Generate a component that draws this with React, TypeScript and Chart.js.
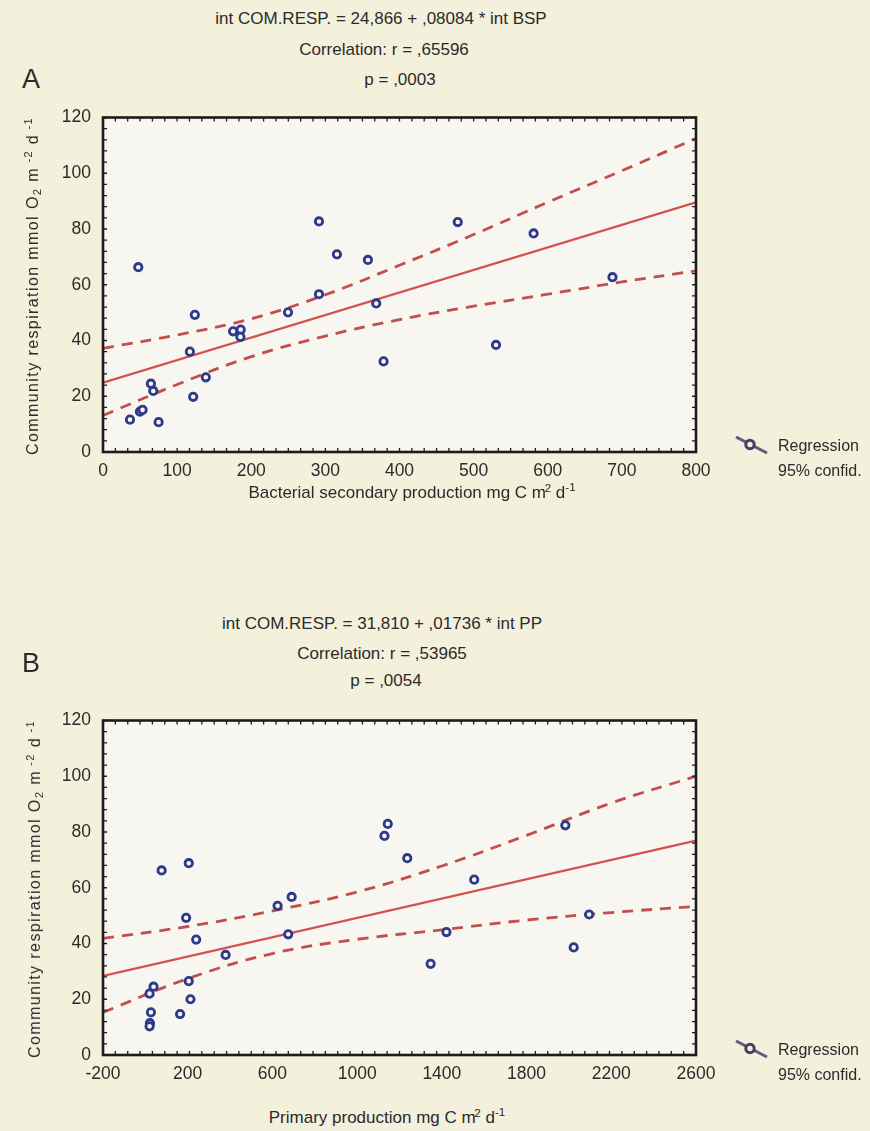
import React, { useEffect, useRef } from 'react';
import { Chart, registerables } from 'chart.js';

Chart.register(...registerables);

// ---------- Panel A: community respiration vs bacterial secondary production ----------
const bspA = [47.6, 36.4, 49.8, 53.4, 64.6, 67.8, 75, 117.2, 123.9, 121.7, 138.7, 175.5, 185.8, 185.4, 249.6, 291.4, 291.4, 315.6, 357.4, 368.6, 378.5, 478.6, 580.9, 687.3, 530.2];
const respA = [66.3, 11.6, 14.5, 15.1, 24.5, 21.9, 10.7, 36, 49.2, 19.8, 26.8, 43.3, 43.9, 41.3, 50.1, 82.7, 56.6, 70.9, 68.9, 53.3, 32.5, 82.5, 78.4, 62.7, 38.4];
const regXA = [0, 800];
const regYA = [24.87, 89.54];
const bandXA = [0, 100, 200, 300, 400, 500, 600, 700, 800];
const upperA = [37.2, 42.0, 47.8, 56.4, 67.0, 78.0, 89.6, 100.9, 112.5];
const lowerA = [13.1, 24.2, 34.2, 41.6, 47.5, 52.3, 56.6, 61.0, 65.0];
const titleA = ['int COM.RESP. = 24,866 + ,08084 * int BSP', 'Correlation: r = ,65596', 'p = ,0003'];

// ---------- Panel B: community respiration vs primary production ----------
const ppB = [76.9, 205, 192.5, 240, 379, 38.7, 19.8, 26.4, 21.6, 20, 164, 205, 213, 624.4, 690.8, 674.7, 1129, 1144.6, 1236.6, 1552.8, 1347, 1421.7, 1983, 2095.6, 2022.6];
const respB = [66.2, 68.8, 49.2, 41.4, 35.9, 24.5, 22.0, 15.3, 11.4, 10.3, 14.7, 26.5, 20.0, 53.5, 56.7, 43.3, 78.6, 82.9, 70.6, 62.9, 32.7, 44.1, 82.4, 50.4, 38.6];
const regXB = [-200, 2600];
const regYB = [28.34, 76.95];
const bandXB = [-200, 200, 600, 1000, 1400, 1800, 2200, 2600];
const upperB = [41.8, 46.1, 51.7, 58.5, 67.8, 78.8, 90.4, 100.0];
const lowerB = [15.3, 27.4, 36.4, 41.5, 44.9, 48.4, 51.1, 53.3];
const titleB = ['int COM.RESP. = 31,810 + ,01736 * int PP', 'Correlation: r = ,53965', 'p = ,0054'];

// ---------- Axes ----------
const yMin = 0, yMax = 120, yStep = 20, yMinorDiv = 30;
const xMinA = 0, xMaxA = 800, xStepA = 100;
const xMinB = -200, xMaxB = 2600, xStepB = 400;
const xMinorDiv = 48;

const legendLabels = ['Regression', '95% confid.'];

const PAGE_BG = '#f3f0dc';
const PLOT_BG = '#f7f6f1';
const NAVY = '#2d3a8c';
const RED = '#d4504a';
const DASH = '#c24f4b';
const TEXT = '#2b2b2b';
const FONT = '"Liberation Sans", Arial, sans-serif';
const TICK_FONT = '"Liberation Sans", Arial, sans-serif';

const framePlugin = {
  id: 'frame',
  beforeDatasetsDraw(chart: any) {
    const { ctx, chartArea: a } = chart;
    ctx.save();
    ctx.fillStyle = PLOT_BG;
    ctx.fillRect(a.left, a.top, a.right - a.left, a.bottom - a.top);
    ctx.restore();
  },
  afterDraw(chart: any) {
    const { ctx, chartArea: a, scales } = chart;
    const xs = scales.x, ys = scales.y;
    ctx.save();
    ctx.strokeStyle = '#1c1c1c';
    ctx.lineWidth = 1.3;
    ctx.beginPath();
    const xStepMinor = (xs.max - xs.min) / xMinorDiv;
    for (let i = 0; i <= xMinorDiv; i++) {
      const px = xs.getPixelForValue(xs.min + i * xStepMinor);
      ctx.moveTo(px, a.top); ctx.lineTo(px, a.top + 4);
      ctx.moveTo(px, a.bottom); ctx.lineTo(px, a.bottom - 4);
    }
    const yStepMinor = (ys.max - ys.min) / yMinorDiv;
    for (let i = 0; i <= yMinorDiv; i++) {
      const py = ys.getPixelForValue(ys.min + i * yStepMinor);
      ctx.moveTo(a.left, py); ctx.lineTo(a.left + 4, py);
      ctx.moveTo(a.right, py); ctx.lineTo(a.right - 4, py);
    }
    ctx.stroke();
    ctx.lineWidth = 2.6;
    ctx.strokeRect(a.left, a.top, a.right - a.left, a.bottom - a.top);
    ctx.restore();
  },
};

type PanelProps = {
  top: number;
  px: number[]; py: number[];
  rx: number[]; ry: number[];
  bx: number[]; bu: number[]; bl: number[];
  xMin: number; xMax: number; xStep: number;
};

function Panel(p: PanelProps) {
  const ref = useRef<HTMLCanvasElement>(null);
  useEffect(() => {
    const toPts = (xs: number[], ys: number[]) => xs.map((x, i) => ({ x, y: ys[i] }));
    const band = (ys: number[], order: number) => ({
      type: 'line',
      data: toPts(p.bx, ys),
      order,
      borderColor: DASH,
      borderWidth: 2.8,
      borderDash: [11, 8],
      pointRadius: 0,
      tension: 0.4,
      fill: false,
    });
    const chart = new Chart(ref.current as HTMLCanvasElement, {
      type: 'scatter',
      data: {
        datasets: [
          {
            type: 'scatter',
            data: toPts(p.px, p.py),
            order: 0,
            pointRadius: 3.7,
            pointBorderWidth: 2.8,
            borderColor: NAVY,
            backgroundColor: PLOT_BG,
            pointBackgroundColor: PLOT_BG,
            pointBorderColor: NAVY,
          } as any,
          {
            type: 'line',
            data: toPts(p.rx, p.ry),
            order: 1,
            borderColor: RED,
            borderWidth: 2.2,
            pointRadius: 0,
            fill: false,
          } as any,
          band(p.bu, 2) as any,
          band(p.bl, 3) as any,
        ],
      },
      options: {
        responsive: false,
        animation: false,
        events: [],
        layout: { padding: { top: 17, right: 44, left: 0, bottom: 0 } },
        plugins: { legend: { display: false }, tooltip: { enabled: false } },
        scales: {
          x: {
            type: 'linear',
            min: p.xMin,
            max: p.xMax,
            grid: { display: false, drawTicks: false },
            border: { display: false },
            ticks: {
              stepSize: p.xStep,
              autoSkip: false,
              maxRotation: 0,
              padding: 9,
              color: TEXT,
              font: { family: TICK_FONT, size: 17.5 },
              callback: (v: any) => String(v),
            },
            afterFit: (s: any) => { s.height = 43; },
          },
          y: {
            type: 'linear',
            min: yMin,
            max: yMax,
            grid: { display: false, drawTicks: false },
            border: { display: false },
            ticks: {
              stepSize: yStep,
              padding: 12,
              color: TEXT,
              font: { family: TICK_FONT, size: 17.5 },
              callback: (v: any) => String(v),
            },
            afterFit: (s: any) => { s.width = 103; },
          },
        },
      } as any,
      plugins: [framePlugin],
    });
    return () => chart.destroy();
  }, []);
  return (
    <canvas
      ref={ref}
      width={740}
      height={400}
      style={{ position: 'absolute', left: 0, top: p.top, width: 740, height: 400 }}
    />
  );
}

function Txt({ x, y, size = 17, children, align = 'center', style = {} }: any) {
  const tx = align === 'center' ? '-50%' : '0';
  return (
    <div
      style={{
        position: 'absolute', left: x, top: y, fontSize: size, lineHeight: 1,
        fontFamily: FONT, color: TEXT, whiteSpace: 'nowrap',
        transform: `translate(${tx}, -50%)`, ...style,
      }}
    >
      {children}
    </div>
  );
}

const supStyle: React.CSSProperties = { fontSize: '0.68em', verticalAlign: '0.55em', lineHeight: 0 };

function YTitle({ cx, cy }: { cx: number; cy: number }) {
  return (
    <div
      style={{
        position: 'absolute', left: cx, top: cy, fontSize: 16, lineHeight: 1,
        fontFamily: FONT, color: TEXT, whiteSpace: 'nowrap', letterSpacing: 1.4,
        transform: 'translate(-50%, -50%) rotate(-90deg)',
      }}
    >
      Community respiration mmol O<sub style={{ fontSize: '0.7em', verticalAlign: '-0.3em', lineHeight: 0 }}>2</sub> m<sup style={supStyle}> -2</sup> d<sup style={supStyle}> -1</sup>
    </div>
  );
}

function Legend({ x, y }: { x: number; y: number }) {
  return (
    <>
      <svg style={{ position: 'absolute', left: x, top: y - 7 }} width={34} height={20}>
        <line x1={1} y1={1} x2={32} y2={17} stroke="#6b5680" strokeWidth={3} />
        <circle cx={15} cy={8.5} r={4.2} fill={PAGE_BG} stroke="#4a3a64" strokeWidth={3} />
      </svg>
      <Txt x={x + 43} y={y + 3} size={16} align="left">{legendLabels[0]}</Txt>
      <Txt x={x + 43} y={y + 28} size={16} align="left">{legendLabels[1]}</Txt>
    </>
  );
}

export default function App() {
  useEffect(() => {
    document.body.style.margin = '0';
    document.body.style.background = PAGE_BG;
  }, []);
  return (
    <div style={{ position: 'absolute', left: 0, top: 0, width: 870, height: 1131, background: PAGE_BG, overflow: 'hidden' }}>
      {/* Panel A */}
      <Txt x={381} y={18} size={17}>{titleA[0]}</Txt>
      <Txt x={384} y={49} size={17}>{titleA[1]}</Txt>
      <Txt x={400} y={79} size={17}>{titleA[2]}</Txt>
      <Txt x={22} y={79} size={27} align="left">A</Txt>
      <Panel top={95} px={bspA} py={respA} rx={regXA} ry={regYA} bx={bandXA} bu={upperA} bl={lowerA} xMin={xMinA} xMax={xMaxA} xStep={xStepA} />
      <YTitle cx={33} cy={286} />
      <Txt x={412} y={492} size={17}>
        Bacterial secondary production mg C m<sup style={{ ...supStyle, marginLeft: '-0.45em' }}>-2</sup> d<sup style={supStyle}>-1</sup>
      </Txt>
      <Legend x={735} y={443} />

      {/* Panel B */}
      <Txt x={382} y={623} size={17}>{titleB[0]}</Txt>
      <Txt x={382} y={653} size={17}>{titleB[1]}</Txt>
      <Txt x={386} y={680} size={17}>{titleB[2]}</Txt>
      <Txt x={22} y={663} size={27} align="left">B</Txt>
      <Panel top={698} px={ppB} py={respB} rx={regXB} ry={regYB} bx={bandXB} bu={upperB} bl={lowerB} xMin={xMinB} xMax={xMaxB} xStep={xStepB} />
      <YTitle cx={35} cy={889} />
      <Txt x={387} y={1117} size={17}>
        Primary production mg C m<sup style={{ ...supStyle, marginLeft: '-0.45em' }}>-2</sup> d<sup style={supStyle}>-1</sup>
      </Txt>
      <Legend x={735} y={1047} />
    </div>
  );
}
